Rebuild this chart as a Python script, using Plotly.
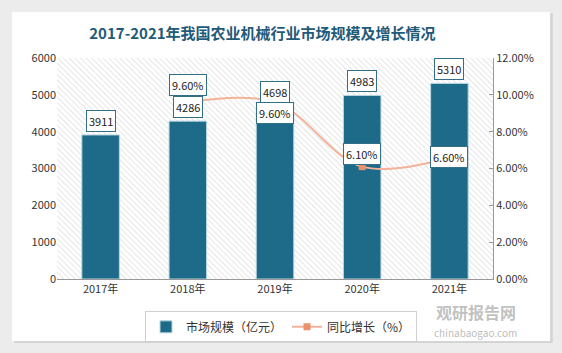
import base64
import plotly.graph_objects as go

years = ["2017年", "2018年", "2019年", "2020年", "2021年"]
market_size = [3911, 4286, 4698, 4983, 5310]
growth = [None, 0.096, 0.096, 0.061, 0.066]
growth_shift = [None, 17, -11, 13, 0]

BAR = "#1d6a89"
LINE = "#f2b39a"
MARK = "#e8916b"
FONT = "Noto Sans CJK SC"

fig = go.Figure()
fig.add_trace(go.Bar(
    x=years, y=market_size, name="市场规模（亿元）",
    marker=dict(color=BAR, line=dict(color="#b9d5e2", width=1)),
    width=0.43, yaxis="y",
))
fig.add_trace(go.Scatter(
    x=years, y=growth, name="同比增长（%）", yaxis="y2",
    mode="lines+markers", connectgaps=True,
    line=dict(color=LINE, width=2, shape="spline", smoothing=1),
    marker=dict(symbol="square", size=7, color=MARK),
))

ann = []
for xv, v in zip(years, market_size):
    ann.append(dict(x=xv, y=v, xref="x", yref="y", text=str(v), showarrow=False,
                    yshift=14, font=dict(size=11, color="#222", family=FONT),
                    bgcolor="white", bordercolor="#336f86", borderwidth=1, borderpad=2))
for xv, g, s in zip(years, growth, growth_shift):
    if g is None:
        continue
    ann.append(dict(x=xv, y=g, xref="x", yref="y2", text=f"{g*100:.2f}%", showarrow=False,
                    yshift=s, font=dict(size=11, color="#222", family=FONT),
                    bgcolor="white", bordercolor="#336f86", borderwidth=1, borderpad=2))

# watermark
ann.append(dict(x=0.961, y=-0.149, xref="paper", yref="paper", text="<b>观研报告网</b>",
                showarrow=False, xanchor="center", yanchor="middle",
                font=dict(size=16, color="rgba(140,140,140,0.55)", family=FONT)))
ann.append(dict(x=0.961, y=-0.242, xref="paper", yref="paper", text="chinabaogao.com",
                showarrow=False, xanchor="center", yanchor="middle",
                font=dict(size=10, color="rgba(140,140,140,0.6)", family=FONT)))

# hatch background for plot area (decorative)
svg = ('<svg xmlns="http://www.w3.org/2000/svg" width="436" height="221" viewBox="0 0 436 221">'
       '<defs><pattern id="p" width="4" height="4" patternUnits="userSpaceOnUse" patternTransform="rotate(-45)">'
       '<rect width="4" height="4" fill="#ffffff"/>'
       '<line x1="0" y1="0" x2="0" y2="4" stroke="#d6d6d6" stroke-width="1.2"/></pattern></defs>'
       '<rect width="436" height="221" fill="url(#p)"/></svg>')
src = "data:image/svg+xml;base64," + base64.b64encode(svg.encode()).decode()

fig.update_layout(
    width=562, height=353,
    margin=dict(l=57, r=69, t=58, b=74),
    paper_bgcolor="#ececec",
    plot_bgcolor="rgba(0,0,0,0)",
    title=dict(text="<b>2017-2021年我国农业机械行业市场规模及增长情况</b>",
               x=0.467, xanchor="center", y=0.905, yanchor="middle",
               font=dict(size=15, color="#1f5a78", family=FONT)),
    font=dict(family=FONT, size=11, color="#333"),
    xaxis=dict(showline=True, linecolor="#999", ticks="", showgrid=False,
               range=[-0.5, 4.5], tickfont=dict(size=11, color="#333")),
    yaxis=dict(range=[0, 6000], dtick=1000, showgrid=False, zeroline=False,
               showline=False, ticks="", tickfont=dict(size=11, color="#333")),
    yaxis2=dict(range=[0, 0.12], dtick=0.02, tickformat=".2%", overlaying="y", side="right",
                showgrid=False, zeroline=False, showline=True, linecolor="#999",
                ticks="inside", ticklen=4, tickcolor="#999",
                tickfont=dict(size=11, color="#333")),
    legend=dict(orientation="h", x=0.5, xref="container", xanchor="center",
                y=0.118, yref="container", yanchor="top",
                bordercolor="#d0d0d0", borderwidth=1, bgcolor="white",
                font=dict(size=12, color="#333")),
    showlegend=True,
    bargap=0.5,
    annotations=ann,
    images=[dict(source=src, xref="x", yref="y", x=-0.5, y=6000, sizex=5, sizey=6000,
                 sizing="stretch", xanchor="left", yanchor="top", layer="below")],
    shapes=[
        dict(type="rect", xref="paper", yref="paper", x0=-0.098, x1=1.137, y0=-0.290, y1=1.202,
             fillcolor="#d4d4d4", line=dict(width=0), layer="below"),
        dict(type="rect", xref="paper", yref="paper", x0=-0.103, x1=1.131, y0=-0.281, y1=1.208,
             fillcolor="white", line=dict(width=0), layer="below"),
    ],
)

fig.write_html("out.html")
